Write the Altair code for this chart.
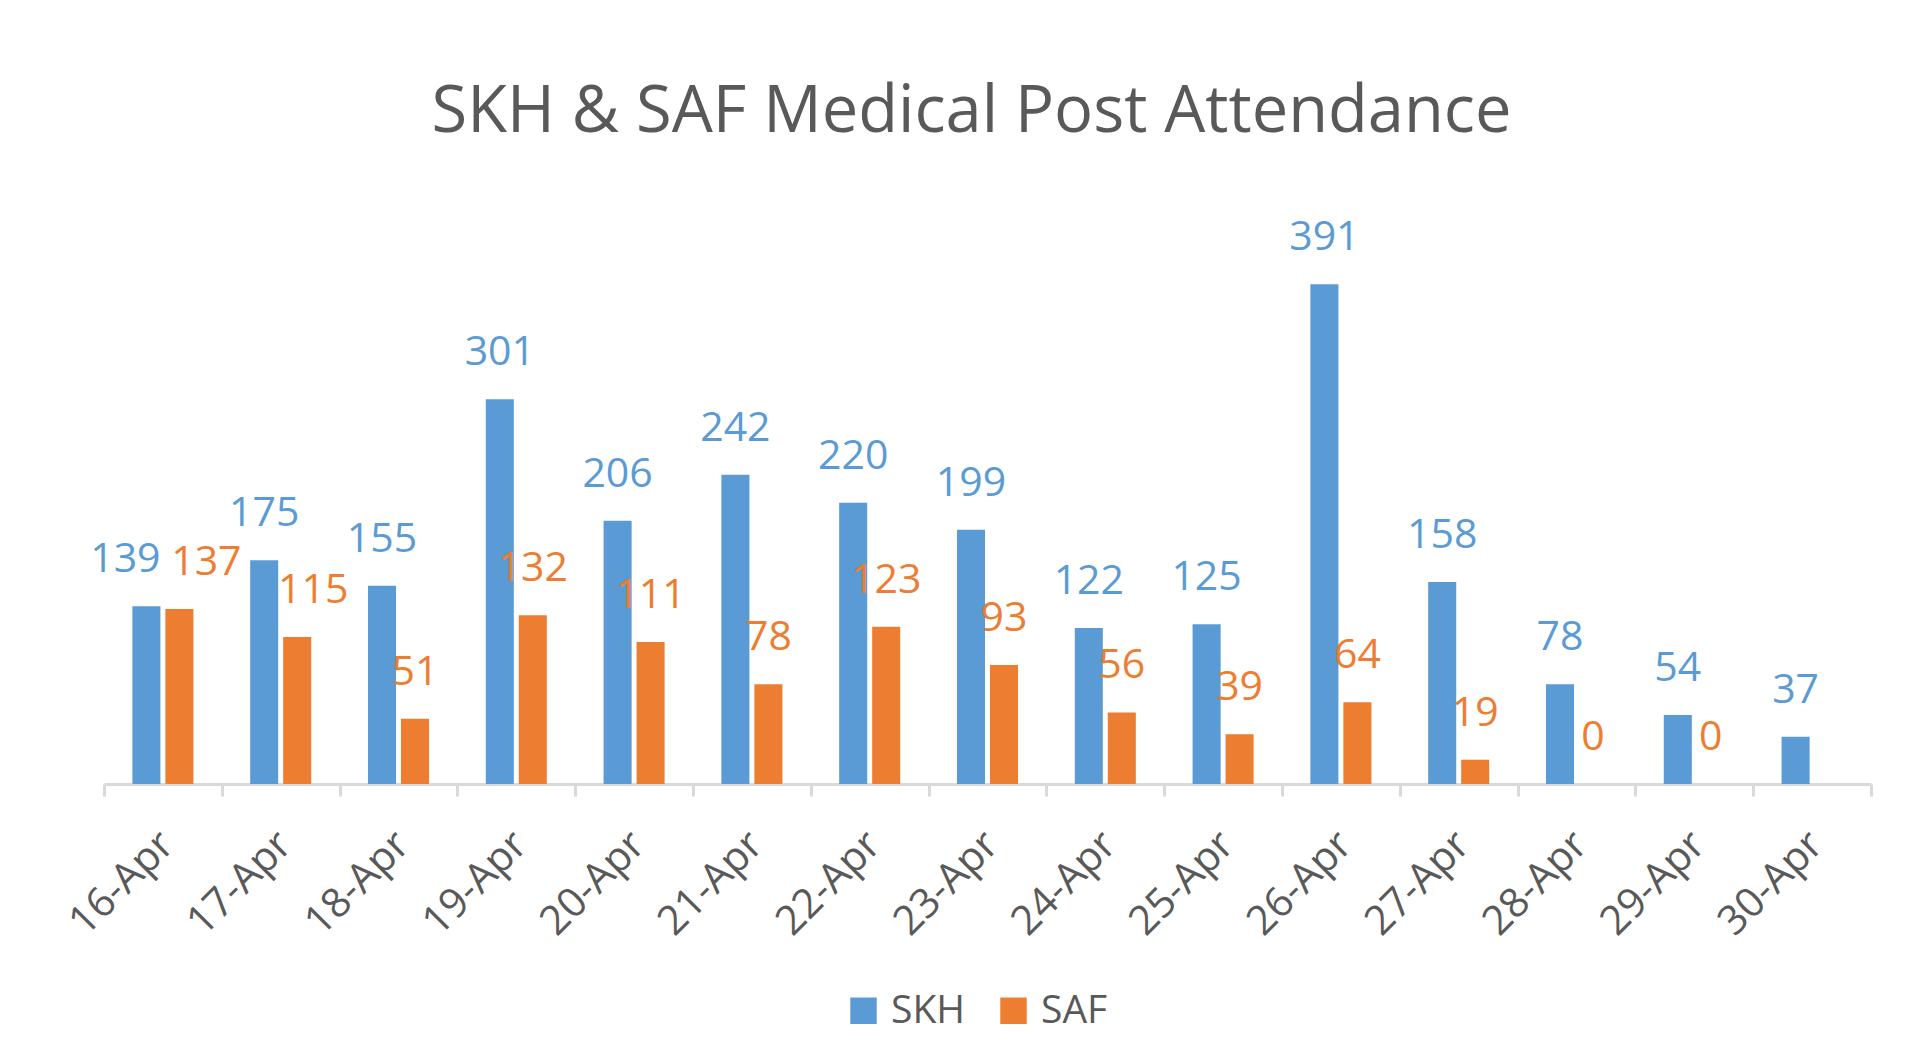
import altair as alt
import pandas as pd

dates = ["16-Apr", "17-Apr", "18-Apr", "19-Apr", "20-Apr", "21-Apr", "22-Apr", "23-Apr",
         "24-Apr", "25-Apr", "26-Apr", "27-Apr", "28-Apr", "29-Apr", "30-Apr"]
skh = [139, 175, 155, 301, 206, 242, 220, 199, 122, 125, 391, 158, 78, 54, 37]
saf = [137, 115, 51, 132, 111, 78, 123, 93, 56, 39, 64, 19, 0, 0, None]
series = ["SKH", "SAF"]
colors = ["#5B9BD5", "#ED7D31"]

rows = []
for d, a, b in zip(dates, skh, saf):
    rows.append({"date": d, "series": "SKH", "value": a})
    if b is not None:
        rows.append({"date": d, "series": "SAF", "value": b})
df = pd.DataFrame(rows)

FONT = "Open Sans"
GREY = "#595959"

base = alt.Chart(df).encode(
    x=alt.X("date:N", sort=dates, title=None,
            scale=alt.Scale(paddingInner=0, paddingOuter=0),
            axis=alt.Axis(labelAngle=-45, labelFontSize=41, labelFont=FONT, labelColor=GREY,
                          labelPadding=28, labelOffset=-10, tickBand="extent", tickSize=12,
                          tickWidth=3, tickColor="#D9D9D9", domainColor="#D9D9D9",
                          domainWidth=3, grid=False)),
    xOffset=alt.XOffset("series:N", sort=series,
                        scale=alt.Scale(paddingInner=0.15, paddingOuter=0.86)),
    y=alt.Y("value:Q", scale=alt.Scale(domain=[0, 460], nice=False), axis=None),
    color=alt.Color("series:N", sort=series,
                    scale=alt.Scale(domain=series, range=colors),
                    legend=alt.Legend(title=None, orient="none", direction="horizontal",
                                      legendX=740, legendY=795, symbolType="square",
                                      symbolSize=700, symbolStrokeWidth=0,
                                      labelFontSize=39, labelFont=FONT, labelColor=GREY,
                                      labelOffset=8, columnPadding=28)),
)

bars = base.mark_bar()

txt = dict(dy=-46, fontSize=41, font=FONT, baseline="middle", align="center")
labels = base.mark_text(**txt).encode(text="value:Q").transform_filter(
    "!(datum.date == '16-Apr' || (datum.date == '17-Apr' && datum.series == 'SAF'))")
lab1 = base.mark_text(dx=-21, **txt).encode(text="value:Q").transform_filter(
    "datum.date == '16-Apr' && datum.series == 'SKH'")
lab2 = base.mark_text(dx=27, **txt).encode(text="value:Q").transform_filter(
    "datum.date == '16-Apr' && datum.series == 'SAF'")
lab3 = base.mark_text(dx=16, **txt).encode(text="value:Q").transform_filter(
    "datum.date == '17-Apr' && datum.series == 'SAF'")

chart = alt.layer(bars, labels, lab1, lab2, lab3).properties(
    width=1767, height=588,
    title=alt.Title("SKH & SAF Medical Post Attendance", fontSize=65, font=FONT,
                    fontWeight="normal", color=GREY, anchor="middle", dx=-16, offset=50),
    autosize=alt.AutoSizeParams(type="none"),
    padding={"left": 96, "top": 188, "right": 35, "bottom": 260},
    background="white",
).configure_view(stroke=None)

chart.save("out.html", embed_options={"renderer": "svg", "actions": False})
